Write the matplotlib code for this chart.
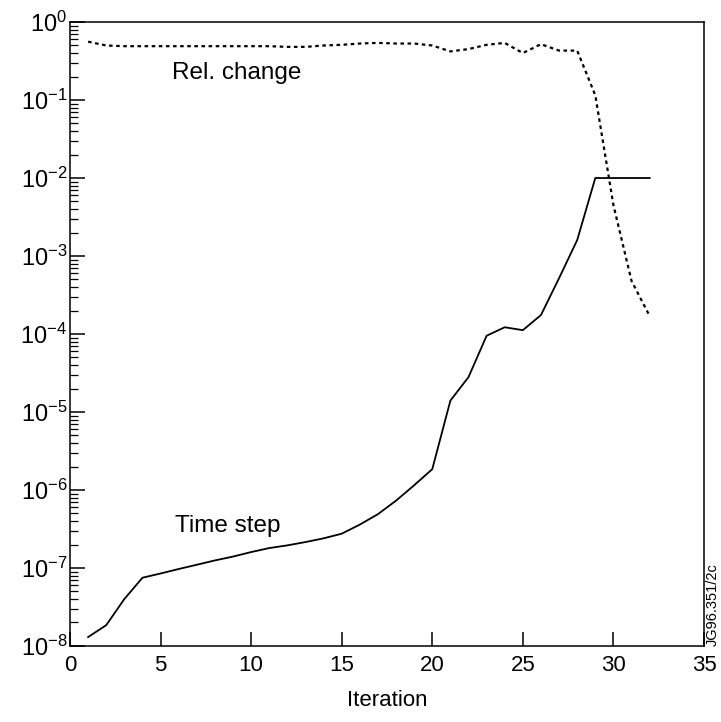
import matplotlib
matplotlib.use("Agg")
import matplotlib.pyplot as plt
from matplotlib.ticker import LogLocator, NullFormatter

plt.rcParams['font.family'] = ['Liberation Sans', 'DejaVu Sans']
plt.rcParams['mathtext.fontset'] = 'custom'
plt.rcParams['mathtext.rm'] = 'Liberation Sans'
plt.rcParams['mathtext.it'] = 'Liberation Sans:italic'

iterations = list(range(1, 33))

time_step = [1.3e-8, 1.85e-8, 4.0e-8, 7.5e-8, 8.5e-8, 9.7e-8, 1.1e-7, 1.25e-7,
             1.4e-7, 1.6e-7, 1.8e-7, 1.95e-7, 2.15e-7, 2.4e-7, 2.75e-7, 3.6e-7,
             4.9e-7, 7.3e-7, 1.15e-6, 1.85e-6, 1.4e-5, 2.8e-5, 9.5e-5, 1.22e-4,
             1.12e-4, 1.75e-4, 5.2e-4, 1.6e-3, 1e-2, 1e-2, 1e-2, 1e-2]

rel_change = [0.56, 0.50, 0.49, 0.49, 0.49, 0.49, 0.49, 0.49,
              0.49, 0.49, 0.49, 0.48, 0.48, 0.50, 0.51, 0.53,
              0.54, 0.53, 0.53, 0.50, 0.42, 0.45, 0.51, 0.54,
              0.40, 0.52, 0.43, 0.43, 0.115, 4.5e-3, 4.8e-4, 1.7e-4]

fig = plt.figure(figsize=(7.21, 7.22), dpi=100)
ax = fig.add_axes([0.0971, 0.1053, 0.8793, 0.8642])

ax.plot(iterations, time_step, '-', color='black', lw=1.3)
ax.plot(iterations, rel_change, color='black', lw=1.6, linestyle=(0, (1.6, 1.6)))

ax.set_yscale('log')
ax.set_xlim(0, 35)
ax.set_ylim(1e-8, 1e0)
ax.set_xticks([0, 5, 10, 15, 20, 25, 30, 35])
ax.yaxis.set_major_locator(LogLocator(base=10, numticks=20))
ax.yaxis.set_minor_locator(LogLocator(base=10, subs=range(2, 10), numticks=20))
ax.yaxis.set_minor_formatter(NullFormatter())

ax.tick_params(axis='both', which='major', direction='in', width=1.1)
ax.tick_params(axis='y', which='major', length=11, pad=2, labelsize=17)
ax.tick_params(axis='y', which='minor', direction='in', length=6, width=0.9)
ax.tick_params(axis='x', which='major', length=10, pad=6.5, labelsize=16)
ax.tick_params(axis='x', which='minor', bottom=False)

for s in ax.spines.values():
    s.set_linewidth(1.1)

ax.set_xlabel('Iteration', fontsize=16, labelpad=10)

ax.text(5.63, 0.186, 'Rel. change', fontsize=17.5, va='baseline', ha='left')
ax.text(5.8, 2.9e-7, 'Time step', fontsize=17.5, va='baseline', ha='left')

fig.text(0.988, 0.162, 'JG96.351/2c', rotation=90, fontsize=10.5, ha='center', va='center')

fig.savefig('out.png', dpi=100)
plt.close(fig)
